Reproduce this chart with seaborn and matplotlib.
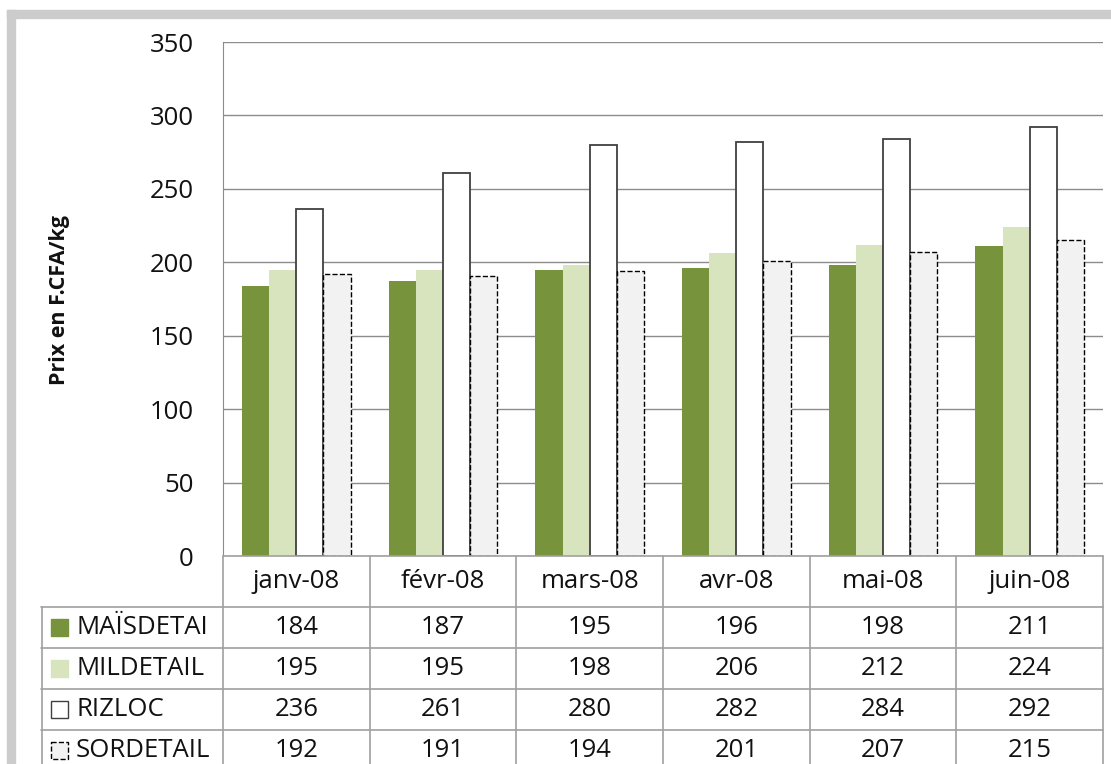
import pandas as pd
import matplotlib

matplotlib.use('Agg')
import matplotlib.pyplot as plt
import seaborn as sns
from matplotlib.patches import Rectangle

# data
mois = ['janv-08', 'févr-08', 'mars-08', 'avr-08', 'mai-08', 'juin-08']
series = ['MAÏSDETAI', 'MILDETAIL', 'RIZLOC', 'SORDETAIL']
mais = [184, 187, 195, 196, 198, 211]
mil = [195, 195, 198, 206, 212, 224]
riz = [236, 261, 280, 282, 284, 292]
sorgho = [192, 191, 194, 201, 207, 215]

colors = ['#77933C', '#D7E4BD', '#FFFFFF', '#F2F2F2']
edges = ['#77933C', '#D7E4BD', '#404040', '#000000']
styles = ['-', '-', '-', '--']
widths = [0, 0, 1.3, 1.0]

values = [mais, mil, riz, sorgho]
df = pd.DataFrame({
    'mois': mois * len(series),
    'serie': [s for s in series for _ in mois],
    'prix': [v for vals in values for v in vals],
})

sns.set_style('white')
plt.rcParams['font.family'] = ['Open Sans', 'DejaVu Sans']

W, H = 1111, 764
fig = plt.figure(figsize=(W / 100, H / 100), dpi=100)

# grey frame of the screenshot
fig.patches.append(Rectangle((7 / W, 0), 8 / W, (H - 10) / H, transform=fig.transFigure,
                             color='#cccccc', zorder=0))
fig.patches.append(Rectangle((7 / W, 1 - 18 / H), 1 - 7 / W, 8 / H, transform=fig.transFigure,
                             color='#cccccc', zorder=0))

ax = fig.add_axes([223 / W, 1 - 556 / H, 880 / W, 514 / H])
sns.barplot(data=df, x='mois', y='prix', hue='serie', hue_order=series, order=mois,
            palette=colors, saturation=1, width=0.74, legend=False, ax=ax)
for i, cont in enumerate(ax.containers):
    for p in cont.patches:
        p.set_edgecolor(edges[i])
        p.set_linestyle(styles[i])
        p.set_linewidth(widths[i])
        p.set_zorder(3)

ax.set_ylim(0, 350)
ax.set_xlim(-0.5, len(mois) - 0.5)
ax.set_yticks(range(0, 351, 50))
ax.yaxis.grid(True, color='#8c8c8c', lw=1)
ax.set_axisbelow(True)
ax.set_xticks([])
ax.set_xlabel('')
ax.set_ylabel('')
ax.tick_params(axis='y', length=0, pad=21, labelsize=18.5, labelcolor='#111111')
for s in ['top', 'right', 'bottom']:
    ax.spines[s].set_visible(False)
ax.spines['left'].set_color('#8c8c8c')

fig.text(60 / W, 1 - 300 / H, 'Prix en F.CFA/kg', rotation=90, ha='center', va='center',
         fontsize=15.5, fontweight='bold', color='#111111')

# data table below the chart
col_w = 880 / len(mois)
x_left = -0.5 - 182 / col_w
head_h = 51 / 41
y_bot = head_h + (764 - 607) / 41
tb = fig.add_axes([41 / W, 0, 1062 / W, 208 / H])
tb.set_xlim(x_left, len(mois) - 0.5)
tb.set_ylim(y_bot, 0)
tb.axis('off')

line_kw = dict(color='#a0a0a0', lw=1.2, clip_on=False)
for k in range(len(mois) + 1):
    tb.plot([k - 0.5, k - 0.5], [0, y_bot], **line_kw)
tb.plot([x_left + 0.005, x_left + 0.005], [head_h, y_bot], **line_kw)
tb.plot([-0.5, len(mois) - 0.5], [0, 0], **line_kw)
for r in range(len(series)):
    tb.plot([x_left, len(mois) - 0.5], [head_h + r, head_h + r], **line_kw)

for j, m in enumerate(mois):
    tb.text(j, head_h / 2, m, ha='center', va='center', fontsize=18.5, color='#111111')

sw = 17 / col_w
for r, (name, vals) in enumerate(zip(series, values)):
    yc = head_h + r + 0.5
    tb.add_patch(Rectangle((x_left + 10 / col_w, yc - 0.2), sw, 0.4,
                           facecolor=colors[r],
                           edgecolor=edges[r] if r >= 2 else colors[r],
                           linestyle=styles[r], lw=1.0, clip_on=False))
    tb.text(x_left + 35 / col_w, yc, name, ha='left', va='center', fontsize=18.5,
            color='#111111')
    for j, v in enumerate(vals):
        tb.text(j, yc, str(v), ha='center', va='center', fontsize=18.5, color='#111111')

fig.savefig('out.png', dpi=100)
